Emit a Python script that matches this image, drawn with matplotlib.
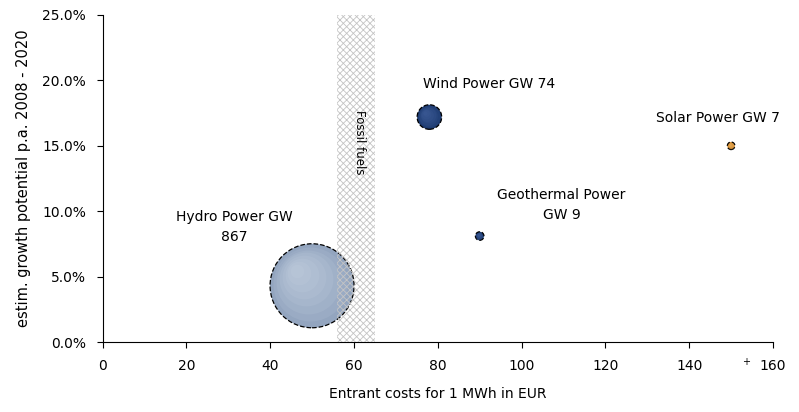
import numpy as np
import matplotlib.pyplot as plt
from matplotlib.ticker import PercentFormatter
from matplotlib.transforms import offset_copy

plt.rcParams['font.family'] = ['DejaVu Sans']
plt.rcParams['hatch.linewidth'] = 0.6

# data
names = ['Hydro Power', 'Wind Power', 'Geothermal Power', 'Solar Power']
cost = [50, 78, 90, 150]          # EUR per MWh
growth = [4.3, 17.2, 8.1, 15.0]   # % p.a.
capacity = [867, 74, 9, 7]        # GW
labels = ['Hydro Power GW\n867', 'Wind Power GW 74', 'Geothermal Power\nGW 9', 'Solar Power GW 7']
fossil = [56, 65]

colors = ['#93a5bf', '#1d3a70', '#1d3a70', '#d2892c']
hilite = ['#d0dae8', '#4a6aa8', '#4a6aa8', '#f0bd70']
label_pos = [(31.5, 8.8, 'center'), (76.5, 19.7, 'left'), (109.5, 10.5, 'center'), (132, 17.1, 'left')]

fig = plt.figure(figsize=(7.99, 4.12), dpi=100)
ax = fig.add_axes([0.1283, 0.1699, 0.8392, 0.7937])

# fossil fuel band, hatch drawn over the bubbles like the original
ax.axvspan(fossil[0], fossil[1], facecolor='none', edgecolor='#c4c4c4',
           hatch='xxxxx', linewidth=0, zorder=6)
ax.text(sum(fossil) / 2 + 0.8, 15.3, 'Fossil fuels', rotation=-90, ha='center',
        va='center', fontsize=8.5, zorder=7)

scale = 4.22
sizes = np.array(capacity) * scale
ax.scatter(cost, growth, s=sizes, c=colors, edgecolors='black',
           linewidths=0.9, linestyles='--', zorder=3)
# soft shading: stacked translucent discs shifted up-left
for i in range(len(cost)):
    r = np.sqrt(sizes[i]) / 2
    for k in range(1, 8):
        frac = 1 - k * 0.12
        shift = 0.05 * k * r
        tr = offset_copy(ax.transData, fig=fig, x=-shift, y=shift, units='points')
        ax.scatter([cost[i]], [growth[i]], s=sizes[i] * frac ** 2, c=hilite[i],
                   linewidths=0, alpha=0.13, zorder=4, transform=tr)

for lab, (lx, ly, ha) in zip(labels, label_pos):
    ax.text(lx, ly, lab, ha=ha, va='center', fontsize=10, linespacing=1.55)

ax.text(153.5, -1.55, '+', ha='center', va='center', fontsize=7)

ax.set_xlim(0, 160)
ax.set_ylim(0, 25)
ax.set_xticks(np.arange(0, 161, 20))
ax.set_yticks(np.arange(0, 25.1, 5))
ax.yaxis.set_major_formatter(PercentFormatter(decimals=1))
ax.tick_params(direction='out', length=4, labelsize=10, pad=8)
ax.spines['top'].set_visible(False)
ax.spines['right'].set_visible(False)
ax.set_xlabel('Entrant costs for 1 MWh in EUR', fontsize=10, labelpad=10)
ax.set_ylabel('estim. growth potential p.a. 2008 - 2020', fontsize=10.5, labelpad=8)

fig.savefig('out.png', dpi=100)
